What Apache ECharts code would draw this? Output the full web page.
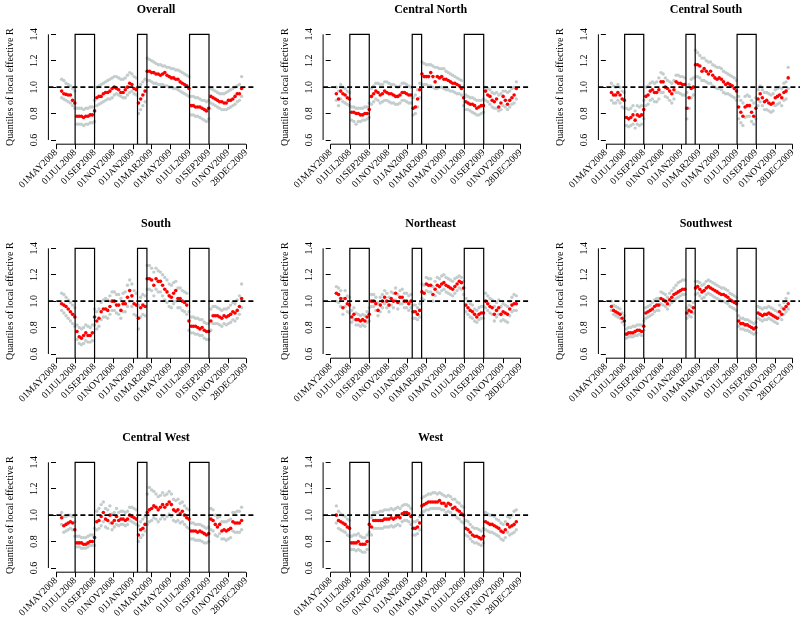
<!DOCTYPE html>
<html><head><meta charset="utf-8">
<script src="https://cdn.jsdelivr.net/npm/echarts@6/dist/echarts.min.js"></script>
<style>html,body{margin:0;padding:0;background:#fff}#c{width:800px;height:624px}</style>
</head><body><div id="c"></div>
<script>
// ---------- data ----------
const dates = ["2008-05-19","2008-05-26","2008-06-02","2008-06-09","2008-06-16","2008-06-23","2008-06-30",
"2008-07-07","2008-07-14","2008-07-21","2008-07-28","2008-08-04","2008-08-11","2008-08-18","2008-08-25",
"2008-09-01","2008-09-08","2008-09-15","2008-09-22","2008-09-29","2008-10-06","2008-10-13","2008-10-20","2008-10-27",
"2008-11-03","2008-11-10","2008-11-17","2008-11-24","2008-12-01","2008-12-08","2008-12-15","2008-12-22","2008-12-29",
"2009-01-05","2009-01-12","2009-01-19","2009-01-26","2009-02-02","2009-02-09","2009-02-16","2009-02-23",
"2009-03-02","2009-03-09","2009-03-16","2009-03-23","2009-03-30","2009-04-06","2009-04-13","2009-04-20","2009-04-27",
"2009-05-04","2009-05-11","2009-05-18","2009-05-25","2009-06-01","2009-06-08","2009-06-15","2009-06-22","2009-06-29",
"2009-07-06","2009-07-13","2009-07-20","2009-07-27","2009-08-03","2009-08-10","2009-08-17","2009-08-24","2009-08-31",
"2009-09-07","2009-09-14","2009-09-21","2009-09-28","2009-10-05","2009-10-12","2009-10-19","2009-10-26",
"2009-11-02","2009-11-09","2009-11-16","2009-11-23","2009-11-30","2009-12-07","2009-12-14"];

const vacationStarts = ["2008-07-01","2009-01-16","2009-07-01"];
const vacationEnds   = ["2008-09-01","2009-02-15","2009-09-01"];

const tickDates  = ["2008-05-01","2008-07-01","2008-09-01","2008-11-01","2009-01-01","2009-03-01","2009-05-01","2009-07-01","2009-09-01","2009-11-01","2009-12-28"];
const tickLabels = ["01MAY2008","01JUL2008","01SEP2008","01NOV2008","01JAN2009","01MAR2009","01MAY2009","01JUL2009","01SEP2009","01NOV2009","28DEC2009"];
const yTicks = [0.6,0.8,1.0,1.2,1.4];
const refLine = 1.0;
const yAxisTitle = "Quantiles of local effective R";

const overallMed = [0.97,0.95,0.945,0.94,0.94,0.90,0.88, 0.78,0.78,0.78,0.77,0.78,0.78,0.79,0.79, 0.82,0.92,0.93,0.93,0.95,0.96,0.96,0.97,0.99,1.00,0.99,0.98,0.96,0.96,0.98,1.00,1.03,1.02,0.99,0.98, 0.88,0.91,0.94,0.97, 1.12,1.12,1.11,1.11,1.10,1.10,1.09,1.10,1.11,1.09,1.08,1.07,1.07,1.06,1.06,1.04,1.03,1.02,1.01,0.99, 0.86,0.86,0.85,0.85,0.85,0.84,0.83,0.82,0.84, 0.93,0.92,0.91,0.90,0.89,0.89,0.88,0.88,0.90,0.90,0.91,0.93,0.95,0.95,0.99];
const overallHi = [1.06,1.05,1.03,1.02,1.01,0.99,0.97, 0.84,0.84,0.84,0.83,0.84,0.84,0.85,0.85, 0.90,1.00,1.01,1.02,1.03,1.04,1.05,1.06,1.07,1.08,1.08,1.07,1.06,1.06,1.07,1.09,1.11,1.10,1.08,1.07, 1.00,1.02,1.04,1.06, 1.22,1.21,1.20,1.19,1.18,1.17,1.17,1.16,1.16,1.15,1.15,1.14,1.14,1.13,1.13,1.12,1.11,1.10,1.09,1.08, 0.93,0.93,0.92,0.92,0.91,0.90,0.90,0.89,0.90, 0.99,0.98,0.97,0.96,0.95,0.95,0.95,0.96,0.97,0.98,0.99,1.00,1.01,1.02,1.08];
const overallLo = [0.92,0.91,0.90,0.89,0.88,0.86,0.84, 0.72,0.72,0.72,0.71,0.72,0.72,0.73,0.73, 0.74,0.86,0.87,0.88,0.89,0.90,0.91,0.91,0.92,0.94,0.95,0.94,0.93,0.92,0.92,0.94,0.96,0.97,0.95,0.94, 0.80,0.83,0.86,0.89, 1.05,1.05,1.04,1.03,1.03,1.02,1.02,1.02,1.01,1.01,1.00,1.00,0.99,0.99,0.98,0.97,0.96,0.95,0.94,0.93, 0.79,0.79,0.78,0.78,0.77,0.76,0.75,0.74,0.76, 0.88,0.87,0.86,0.85,0.84,0.83,0.83,0.83,0.84,0.85,0.86,0.87,0.89,0.90,0.93];

const centralNorthMed = [0.95,0.91,0.97,0.95,0.94,0.92,0.91, 0.81,0.81,0.80,0.80,0.79,0.79,0.80,0.80, 0.83,0.93,0.95,0.97,0.96,0.94,0.95,0.97,0.96,0.95,0.95,0.94,0.93,0.93,0.94,0.96,0.96,0.95,0.94,0.94, 0.84,0.85,0.91,0.98, 1.10,1.08,1.08,1.08,1.11,1.08,1.04,1.08,1.07,1.08,1.06,1.06,1.05,1.04,1.03,1.03,1.02,1.01,0.99,0.92, 0.89,0.88,0.87,0.87,0.86,0.84,0.85,0.86,0.86, 0.97,0.94,0.93,0.90,0.89,0.91,0.85,0.88,0.93,0.90,0.87,0.90,0.92,0.94,0.99];
const centralNorthHi = [1.00,0.97,1.02,1.00,0.99,0.97,0.96, 0.85,0.85,0.84,0.84,0.84,0.84,0.85,0.85, 0.88,0.99,1.01,1.03,1.03,1.02,1.02,1.04,1.04,1.03,1.02,1.02,1.01,1.00,1.01,1.03,1.03,1.02,1.01,1.00, 0.92,0.94,0.98,1.03, 1.19,1.18,1.17,1.17,1.17,1.16,1.15,1.15,1.14,1.14,1.14,1.12,1.11,1.10,1.09,1.08,1.07,1.06,1.05,1.00, 0.94,0.93,0.92,0.92,0.91,0.90,0.90,0.90,0.91, 1.00,0.99,0.98,0.96,0.95,0.96,0.94,0.95,0.97,0.97,0.96,0.97,0.99,1.00,1.04];
const centralNorthLo = [0.90,0.86,0.91,0.89,0.88,0.87,0.86, 0.75,0.74,0.72,0.74,0.74,0.75,0.75,0.76, 0.77,0.87,0.89,0.91,0.90,0.88,0.89,0.90,0.90,0.89,0.88,0.88,0.87,0.87,0.88,0.90,0.90,0.89,0.88,0.88, 0.79,0.80,0.85,0.92, 1.02,1.02,1.02,1.01,1.01,1.00,0.99,0.99,1.00,1.00,0.99,0.98,0.98,0.97,0.97,0.96,0.95,0.95,0.94,0.86, 0.83,0.83,0.82,0.81,0.80,0.79,0.79,0.80,0.81, 0.90,0.89,0.87,0.85,0.84,0.84,0.82,0.83,0.86,0.85,0.83,0.85,0.87,0.88,0.91];

const centralSouthMed = [0.96,0.94,0.94,0.96,0.94,0.91,0.90, 0.77,0.76,0.77,0.79,0.75,0.79,0.78,0.79, 0.83,0.93,0.94,0.97,0.98,0.96,0.96,0.98,1.04,1.04,1.00,0.99,0.97,0.95,0.98,1.04,1.03,1.03,1.02,1.02, 0.84,0.92,0.99,1.00, 1.17,1.17,1.16,1.12,1.14,1.12,1.10,1.12,1.09,1.07,1.06,1.07,1.06,1.04,1.02,1.03,1.02,1.01,0.99,0.97, 0.85,0.81,0.78,0.85,0.86,0.86,0.81,0.78,0.84, 0.91,0.95,0.92,0.89,0.90,0.88,0.87,0.88,0.92,0.93,0.94,0.92,0.96,0.97,1.07];
const centralSouthHi = [1.03,1.01,1.00,1.02,1.00,0.97,0.96, 0.84,0.83,0.84,0.86,0.82,0.86,0.85,0.86, 0.90,1.00,1.01,1.03,1.04,1.03,1.04,1.07,1.11,1.10,1.07,1.05,1.04,1.03,1.05,1.09,1.09,1.08,1.08,1.07, 0.96,1.02,1.06,1.07, 1.28,1.26,1.24,1.22,1.22,1.20,1.19,1.19,1.17,1.16,1.15,1.15,1.14,1.12,1.11,1.10,1.09,1.08,1.07,1.05, 0.93,0.90,0.88,0.93,0.94,0.93,0.90,0.88,0.92, 0.98,1.01,0.98,0.96,0.96,0.95,0.94,0.95,0.98,0.99,1.00,0.99,1.03,1.04,1.15];
const centralSouthLo = [0.90,0.88,0.88,0.90,0.88,0.85,0.84, 0.71,0.70,0.71,0.72,0.69,0.72,0.71,0.72, 0.76,0.86,0.87,0.90,0.91,0.89,0.89,0.91,0.96,0.96,0.93,0.92,0.90,0.88,0.91,0.96,0.96,0.95,0.94,0.94, 0.76,0.84,0.92,0.94, 1.08,1.08,1.07,1.05,1.05,1.04,1.03,1.03,1.01,1.00,0.99,0.99,0.98,0.96,0.95,0.95,0.94,0.93,0.92,0.90, 0.76,0.73,0.71,0.77,0.78,0.78,0.74,0.72,0.76, 0.86,0.89,0.86,0.83,0.83,0.82,0.81,0.82,0.86,0.87,0.88,0.86,0.90,0.91,0.99];

const southMed = [0.98,0.97,0.96,0.94,0.92,0.90,0.88, 0.77,0.73,0.72,0.74,0.76,0.74,0.74,0.76, 0.88,0.85,0.87,0.92,0.94,0.94,0.93,0.96,1.00,1.00,0.97,0.97,0.93,0.98,0.98,1.03,1.08,1.04,0.98,0.97, 0.87,0.95,0.97,0.96, 1.17,1.17,1.16,1.12,1.17,1.15,1.15,1.12,1.09,1.07,1.04,1.03,1.06,1.08,1.02,1.02,1.00,0.99,0.97,0.85, 0.81,0.81,0.81,0.80,0.79,0.80,0.78,0.77,0.77, 0.85,0.89,0.89,0.89,0.88,0.87,0.89,0.88,0.89,0.90,0.92,0.91,0.93,0.96,1.02];
const southHi = [1.06,1.05,1.03,1.01,0.99,0.97,0.95, 0.82,0.80,0.79,0.80,0.82,0.81,0.80,0.82, 0.94,0.92,0.94,0.99,1.01,1.02,1.01,1.04,1.07,1.07,1.05,1.05,1.02,1.06,1.07,1.12,1.16,1.13,1.08,1.06, 0.97,1.03,1.05,1.04, 1.27,1.27,1.25,1.22,1.25,1.23,1.22,1.20,1.18,1.16,1.13,1.12,1.14,1.15,1.10,1.10,1.08,1.07,1.06,0.92, 0.88,0.88,0.87,0.87,0.86,0.86,0.84,0.83,0.83, 0.94,0.96,0.96,0.95,0.94,0.93,0.94,0.94,0.95,0.97,0.99,0.98,1.01,1.04,1.13];
const southLo = [0.93,0.91,0.89,0.87,0.85,0.83,0.81, 0.71,0.68,0.67,0.68,0.70,0.69,0.69,0.70, 0.82,0.79,0.81,0.86,0.88,0.88,0.87,0.90,0.93,0.93,0.91,0.90,0.87,0.92,0.92,0.96,1.00,0.96,0.90,0.89, 0.79,0.88,0.90,0.89, 1.09,1.09,1.08,1.04,1.09,1.07,1.07,1.04,1.01,0.99,0.96,0.95,0.98,1.00,0.95,0.95,0.93,0.92,0.90,0.78, 0.76,0.76,0.75,0.75,0.74,0.74,0.72,0.71,0.71, 0.78,0.83,0.83,0.83,0.82,0.81,0.83,0.82,0.83,0.84,0.86,0.85,0.87,0.90,0.95];

const northeastMed = [1.06,1.05,1.02,0.95,1.02,0.98,0.97, 0.88,0.90,0.86,0.86,0.85,0.86,0.85,0.88, 0.90,1.00,1.00,0.98,0.93,0.97,1.00,1.03,1.00,0.97,1.02,1.00,1.06,0.99,1.03,1.03,1.00,1.00,0.98,1.00, 0.92,0.92,0.90,0.93, 1.07,1.06,1.13,1.12,1.12,1.05,1.09,1.12,1.11,1.13,1.14,1.12,1.11,1.10,1.09,1.11,1.13,1.15,1.14,1.10, 0.97,0.95,0.93,0.92,0.90,0.88,0.90,0.91,0.91, 1.00,0.98,0.96,0.95,0.90,0.93,0.95,0.90,0.92,0.91,0.90,0.94,0.97,0.98,0.98];
const northeastHi = [1.11,1.10,1.08,1.02,1.08,1.04,1.03, 0.93,0.95,0.91,0.90,0.89,0.90,0.89,0.92, 0.95,1.05,1.05,1.03,0.99,1.03,1.05,1.08,1.06,1.03,1.07,1.06,1.10,1.05,1.08,1.09,1.06,1.06,1.04,1.05, 0.97,0.97,0.95,0.98, 1.13,1.12,1.18,1.17,1.17,1.11,1.15,1.18,1.17,1.19,1.20,1.18,1.17,1.16,1.15,1.17,1.18,1.19,1.18,1.15, 1.02,1.00,0.98,0.97,0.94,0.93,0.95,0.96,0.96, 1.06,1.04,1.02,1.01,0.96,0.99,1.01,0.96,0.98,0.97,0.96,1.00,1.03,1.05,1.04];
const northeastLo = [1.00,0.99,0.96,0.90,0.96,0.92,0.91, 0.84,0.86,0.82,0.82,0.81,0.82,0.81,0.84, 0.85,0.96,0.96,0.93,0.89,0.92,0.95,0.98,0.95,0.92,0.97,0.95,1.01,0.94,0.98,0.98,0.95,0.95,0.93,0.95, 0.87,0.87,0.86,0.88, 1.02,1.01,1.08,1.07,1.07,1.00,1.04,1.07,1.06,1.08,1.09,1.07,1.06,1.05,1.04,1.06,1.08,1.10,1.09,1.05, 0.92,0.90,0.88,0.87,0.85,0.84,0.86,0.87,0.87, 0.95,0.93,0.91,0.90,0.85,0.88,0.90,0.85,0.86,0.85,0.84,0.89,0.92,0.93,0.93];

const southwestMed = [0.96,0.93,0.92,0.91,0.90,0.87,0.85, 0.75,0.76,0.76,0.76,0.77,0.78,0.78,0.77, 0.81,0.91,0.92,0.93,0.94,0.96,0.97,0.97,1.02,1.01,1.00,0.98,1.01,1.03,1.05,1.06,1.07,1.08,1.09,1.09, 0.91,0.93,0.92,0.95, 1.10,1.11,1.09,1.07,1.08,1.10,1.11,1.10,1.09,1.08,1.07,1.06,1.05,1.05,1.04,1.03,1.01,1.00,0.99,0.98, 0.85,0.83,0.83,0.82,0.82,0.81,0.80,0.79,0.80, 0.91,0.90,0.89,0.90,0.90,0.91,0.90,0.89,0.88,0.87,0.92,0.90,0.94,0.96,0.98];
const southwestHi = [1.00,0.97,0.96,0.95,0.94,0.91,0.89, 0.79,0.80,0.80,0.81,0.81,0.82,0.82,0.82, 0.85,0.95,0.96,0.97,0.99,1.01,1.02,1.02,1.07,1.06,1.05,1.03,1.06,1.08,1.10,1.12,1.14,1.15,1.16,1.16, 0.95,0.97,0.96,0.99, 1.15,1.15,1.14,1.12,1.13,1.15,1.16,1.15,1.14,1.13,1.12,1.11,1.10,1.10,1.09,1.08,1.06,1.05,1.04,1.03, 0.89,0.87,0.87,0.86,0.86,0.85,0.84,0.83,0.84, 0.96,0.95,0.94,0.95,0.95,0.96,0.95,0.94,0.93,0.92,0.97,0.95,0.99,1.02,1.06];
const southwestLo = [0.93,0.90,0.89,0.88,0.87,0.84,0.82, 0.72,0.73,0.73,0.73,0.74,0.74,0.75,0.74, 0.78,0.87,0.88,0.89,0.90,0.92,0.93,0.93,0.98,0.97,0.96,0.94,0.97,0.99,1.01,1.02,1.03,1.04,1.05,1.05, 0.87,0.89,0.88,0.91, 1.05,1.06,1.04,1.02,1.03,1.05,1.06,1.05,1.04,1.03,1.02,1.01,1.00,1.00,0.99,0.98,0.96,0.95,0.94,0.93, 0.81,0.79,0.79,0.78,0.78,0.77,0.76,0.75,0.76, 0.87,0.86,0.85,0.86,0.86,0.87,0.86,0.85,0.84,0.83,0.88,0.86,0.90,0.92,0.94];

const centralWestMed = [0.98,0.92,0.93,0.94,0.95,0.94,0.89, 0.79,0.79,0.79,0.78,0.78,0.79,0.80,0.80, 0.83,0.95,0.96,0.99,1.02,0.97,0.96,1.00,0.94,0.96,0.99,0.96,0.97,0.97,0.96,0.97,1.00,0.99,0.98,0.97, 0.85,0.89,0.90,0.93, 1.02,1.04,1.05,1.07,1.06,1.04,1.06,1.08,1.06,1.08,1.10,1.08,1.04,1.03,1.04,1.01,1.03,1.00,0.98,0.97, 0.88,0.88,0.88,0.87,0.88,0.87,0.86,0.85,0.86, 0.97,0.96,0.93,0.91,0.93,0.88,0.89,0.88,0.89,0.90,0.95,0.94,0.94,0.94,0.96];
const centralWestHi = [1.02,0.99,0.99,1.00,1.00,0.99,0.95, 0.84,0.84,0.83,0.83,0.83,0.84,0.85,0.85, 0.90,1.03,1.05,1.08,1.10,1.05,1.04,1.07,1.01,1.02,1.05,1.02,1.03,1.03,1.02,1.03,1.06,1.06,1.05,1.04, 0.92,0.95,0.97,0.99, 1.16,1.21,1.19,1.18,1.16,1.14,1.15,1.17,1.15,1.16,1.18,1.16,1.12,1.11,1.12,1.09,1.10,1.07,1.05,1.04, 0.94,0.94,0.93,0.93,0.93,0.92,0.91,0.90,0.91, 1.05,1.04,1.00,0.98,0.99,0.95,0.95,0.95,0.96,0.97,1.02,1.02,1.03,1.03,1.06];
const centralWestLo = [0.93,0.87,0.88,0.89,0.90,0.89,0.84, 0.76,0.76,0.75,0.75,0.75,0.76,0.77,0.77, 0.77,0.89,0.90,0.92,0.95,0.91,0.90,0.94,0.89,0.91,0.93,0.92,0.93,0.93,0.92,0.93,0.96,0.95,0.94,0.93, 0.80,0.83,0.85,0.88, 0.93,0.95,0.96,0.98,0.97,0.95,0.97,0.99,0.97,0.99,1.01,0.99,0.96,0.95,0.96,0.94,0.95,0.93,0.91,0.90, 0.82,0.82,0.81,0.81,0.81,0.80,0.79,0.79,0.80, 0.89,0.88,0.85,0.84,0.86,0.82,0.82,0.81,0.82,0.83,0.88,0.87,0.87,0.87,0.89];

const westMed = [1.00,0.96,0.95,0.94,0.93,0.91,0.90, 0.79,0.79,0.79,0.80,0.78,0.78,0.78,0.80, 0.93,0.91,0.96,0.96,0.96,0.96,0.96,0.97,0.97,0.97,0.98,0.97,0.98,0.99,0.98,1.01,1.02,1.02,1.01,0.99, 0.90,0.90,0.91,0.94, 1.07,1.08,1.09,1.10,1.10,1.10,1.10,1.10,1.11,1.09,1.09,1.07,1.09,1.08,1.05,1.06,1.04,1.03,1.01,1.00, 0.90,0.89,0.87,0.85,0.84,0.84,0.83,0.82,0.84, 0.95,0.94,0.93,0.93,0.92,0.91,0.90,0.88,0.87,0.89,0.93,0.91,0.92,0.93,0.95];
const westHi = [1.07,1.03,1.01,1.00,0.99,0.97,0.96, 0.84,0.85,0.85,0.86,0.84,0.83,0.83,0.85, 1.00,0.98,1.02,1.02,1.02,1.03,1.03,1.04,1.04,1.04,1.05,1.04,1.05,1.06,1.05,1.07,1.08,1.08,1.07,1.05, 0.95,0.95,0.96,0.99, 1.13,1.14,1.15,1.16,1.16,1.17,1.17,1.16,1.17,1.16,1.15,1.14,1.15,1.14,1.12,1.12,1.10,1.09,1.07,1.06, 0.96,0.95,0.93,0.91,0.90,0.90,0.89,0.88,0.90, 1.02,1.01,1.00,1.00,0.99,0.97,0.96,0.94,0.93,0.95,0.99,0.98,1.00,1.03,1.04];
const westLo = [0.94,0.90,0.89,0.88,0.87,0.85,0.84, 0.74,0.74,0.73,0.74,0.73,0.72,0.72,0.74, 0.87,0.85,0.90,0.90,0.90,0.90,0.90,0.91,0.91,0.91,0.92,0.91,0.92,0.93,0.92,0.95,0.96,0.96,0.95,0.93, 0.85,0.85,0.86,0.89, 1.02,1.03,1.04,1.04,1.05,1.05,1.05,1.05,1.05,1.04,1.04,1.02,1.03,1.02,1.00,1.00,0.98,0.97,0.95,0.94, 0.85,0.84,0.82,0.80,0.79,0.79,0.78,0.77,0.79, 0.89,0.88,0.87,0.87,0.86,0.85,0.84,0.82,0.81,0.83,0.87,0.85,0.86,0.87,0.89];

const regionNames = ["Overall","Central North","Central South","South","Northeast","Southwest","Central West","West"];
const medians = [overallMed, centralNorthMed, centralSouthMed, southMed, northeastMed, southwestMed, centralWestMed, westMed];
const uppers  = [overallHi, centralNorthHi, centralSouthHi, southHi, northeastHi, southwestHi, centralWestHi, westHi];
const lowers  = [overallLo, centralNorthLo, centralSouthLo, southLo, northeastLo, southwestLo, centralWestLo, westLo];

// ---------- layout / style ----------
const FONT = "'Liberation Serif', 'DejaVu Serif', serif";
const colLeft = [48.4, 323.1, 598.4];
const rowTop = [30.1, 244.1, 458.1];
const GW = 205.2, GH = 114.1;
const GRAY = '#c4cdcd', RED = '#ff0000';

const ORIGIN = Date.UTC(2008, 4, 1);
function dayNum(s){ const p = s.split('-').map(Number); return Math.round((Date.UTC(p[0], p[1]-1, p[2]) - ORIGIN) / 86400000); }
const tickDays = tickDates.map(dayNum);
const labelOf = {}; tickDays.forEach((d,i)=>{ labelOf[d] = tickLabels[i]; });
const X_FIRST = tickDays[0], X_LAST = tickDays[tickDays.length-1];
const X_MIN = X_FIRST - (X_LAST - X_FIRST) * 0.04, X_MAX = X_LAST + (X_LAST - X_FIRST) * 0.04;
const Y_LOW = yTicks[0], Y_HIGH = yTicks[yTicks.length-1];
const Y_MIN = Y_LOW - (Y_HIGH - Y_LOW) * 0.04, Y_MAX = Y_HIGH + (Y_HIGH - Y_LOW) * 0.04;
const xDays = dates.map(dayNum);
const vacStart = vacationStarts.map(dayNum), vacEnd = vacationEnds.map(dayNum);

const grids = [], xAxes = [], yAxes = [], titles = [], series = [];
regionNames.forEach((name, k) => {
  const r = Math.floor(k / 3), c = k % 3;
  grids.push({ left: colLeft[c], top: rowTop[r], width: GW, height: GH });
  titles.push({ text: name, left: colLeft[c] + GW / 2, top: rowTop[r] - 31, textAlign: 'center',
    textStyle: { fontFamily: FONT, fontWeight: 'bold', fontSize: 12, color: '#000' } });
  xAxes.push({ type: 'value', gridIndex: k, min: X_MIN, max: X_MAX,
    axisLine: { show: false }, splitLine: { show: false },
    axisTick: { show: true, customValues: tickDays, length: 5, lineStyle: { color: '#000', width: 1 } },
    axisLabel: { customValues: tickDays, rotate: 45, margin: 7, formatter: v => labelOf[v] || '',
      fontFamily: FONT, fontSize: 9.5, color: '#000' } });
  yAxes.push({ type: 'value', gridIndex: k, min: Y_MIN, max: Y_MAX,
    axisLine: { show: false }, splitLine: { show: false },
    axisTick: { show: true, customValues: yTicks, length: 5, lineStyle: { color: '#000', width: 1 } },
    axisLabel: { customValues: yTicks, rotate: 90, margin: 9, formatter: v => v.toFixed(1),
      fontFamily: FONT, fontSize: 10, color: '#000' },
    name: yAxisTitle, nameLocation: 'middle', nameRotate: 90, nameGap: 33,
    nameTextStyle: { fontFamily: FONT, fontSize: 10, color: '#000' } });
  const mk = arr => xDays.map((d,i) => [d, arr[i]]);
  series.push({ type: 'scatter', xAxisIndex: k, yAxisIndex: k, data: mk(uppers[k]), symbolSize: 3.4,
    itemStyle: { color: GRAY, opacity: 1 }, silent: true, z: 2 });
  series.push({ type: 'scatter', xAxisIndex: k, yAxisIndex: k, data: mk(lowers[k]), symbolSize: 3.4,
    itemStyle: { color: GRAY, opacity: 1 }, silent: true, z: 2 });
  series.push({ type: 'scatter', xAxisIndex: k, yAxisIndex: k, data: mk(medians[k]), symbolSize: 3.6,
    itemStyle: { color: RED, opacity: 1 }, silent: true, z: 3 });
  series.push({ type: 'custom', xAxisIndex: k, yAxisIndex: k, data: [[0, 0]], clip: false, silent: true, z: 5,
    renderItem: (params, api) => {
      const P = (x, y) => api.coord([x, y]);
      const ch = [];
      const line = (a, b, style) => ch.push({ type: 'line', shape: { x1: a[0], y1: a[1], x2: b[0], y2: b[1] },
        style: Object.assign({ stroke: '#000', lineWidth: 1 }, style || {}) });
      line(P(X_FIRST, Y_MIN), P(X_LAST, Y_MIN));
      line(P(X_MIN, Y_LOW), P(X_MIN, Y_HIGH));
      vacStart.forEach((s, j) => {
        const e = vacEnd[j];
        ch.push({ type: 'polyline', shape: { points: [P(s, Y_MIN), P(s, Y_HIGH), P(e, Y_HIGH), P(e, Y_MIN)] },
          style: { fill: null, stroke: '#000', lineWidth: 1.2 } });
      });
      line(P(X_MIN, refLine), P(X_MAX, refLine), { lineWidth: 1.8, lineDash: [5, 3] });
      return { type: 'group', children: ch };
    } });
});

const chart = echarts.init(document.getElementById('c'), null, { renderer: 'canvas' });
chart.setOption({ animation: false, backgroundColor: '#fff', title: titles, grid: grids,
  xAxis: xAxes, yAxis: yAxes, series: series });
</script></body></html>
